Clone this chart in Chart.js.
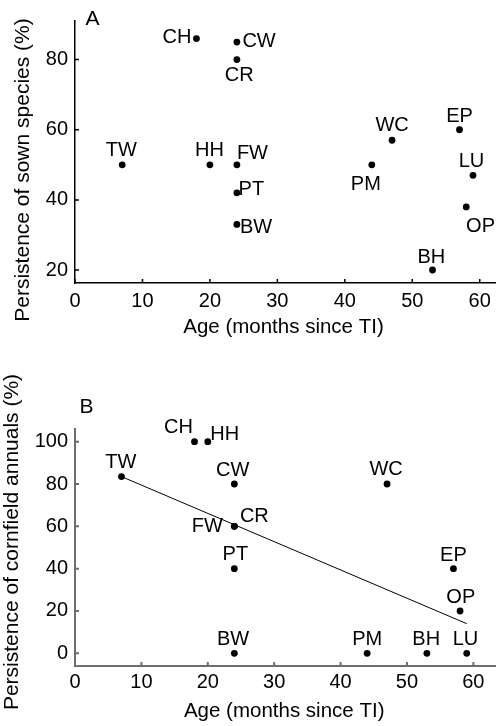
<!DOCTYPE html>
<html><head><meta charset="utf-8">
<script src="https://cdn.jsdelivr.net/npm/chart.js@4"></script>
<style>
html,body{margin:0;padding:0;background:#fff;overflow:hidden;width:496px;height:726px;}
.w{position:absolute;left:0;width:500px;}
</style></head><body>
<div class="w" style="top:0;height:345px"><canvas id="ca"></canvas></div>
<div class="w" style="top:345px;height:381px"><canvas id="cb"></canvas></div>
<script>
// ---- data ----
const xTicks = [0, 10, 20, 30, 40, 50, 60];
const yTicksA = [20, 40, 60, 80];
const yTicksB = [0, 20, 40, 60, 80, 100];

const namesA = ['CH','CW','CR','TW','HH','FW','PT','BW','WC','EP','PM','LU','OP','BH'];
const ageA   = [18, 24, 24, 7, 20, 24, 24, 24, 47, 57, 44, 59, 58, 53];
const sownA  = [86, 85, 80, 50, 50, 50, 42, 33, 57, 60, 50, 47, 38, 20];

const namesB = ['CH','HH','TW','CW','FW','CR','PT','BW','WC','EP','OP','PM','BH','LU'];
const ageB   = [18, 20, 7, 24, 24, 24, 24, 24, 47, 57, 58, 44, 53, 59];
const cornB  = [100, 100, 83.5, 80, 60, 60, 40, 0, 80, 40, 20, 0, 0, 0];

const fitAge  = [7, 59];
const fitCorn = [83.5, 14];

const titleX = 'Age (months since TI)';
const titleYA = 'Persistence of sown species (%)';
const titleYB = 'Persistence of cornfield annuals (%)';

// ---- label placement (pixel offsets from each point, cap-centre) ----
const offA = {
  CH:[-5,-2.7,'right'], CW:[5.5,-2.2,'left'], CR:[2.3,14.5], TW:[-1,-16.4], HH:[-0.5,-16.4],
  FW:[0,-12.7,'left'], PT:[1.7,-4.8,'left'], BW:[3,1.5,'left'], WC:[0,-16.7], EP:[0,-14.5],
  PM:[-6,17.5], LU:[-1.5,-15.5], OP:[14.3,18], BH:[-1.2,-14.5]
};
const offB = {
  CH:[-16,-16.3], HH:[17,-9.1], TW:[-0.7,-15.6], CW:[-1.7,-14.9], FW:[-27,-2], CR:[20,-11.2],
  PT:[1,-16], BW:[-1.3,-15.7], WC:[-1,-16.4], EP:[0,-15.1], OP:[0.7,-15.5], PM:[0,-15.7],
  BH:[-0.7,-15.7], LU:[-1.2,-15.7]
};

const FAM = '"Liberation Sans", Arial, Helvetica, sans-serif';

function makeDecor(cfg) {
  return {
    id: 'decor',
    afterDraw(chart) {
      const ctx = chart.ctx;
      const xs = chart.scales.x, ys = chart.scales.y;
      ctx.save();
      // inward ticks
      ctx.strokeStyle = cfg.axisColor;
      ctx.lineWidth = cfg.axisWidth;
      ctx.beginPath();
      cfg.xt.forEach(v => {
        const px = xs.getPixelForValue(v);
        ctx.moveTo(px, xs.top); ctx.lineTo(px, xs.top - 4);
      });
      cfg.yt.forEach(v => {
        const py = ys.getPixelForValue(v);
        ctx.moveTo(ys.right, py); ctx.lineTo(ys.right + 4, py);
      });
      ctx.stroke();
      // point labels
      ctx.fillStyle = '#000';
      const fs = 20;
      ctx.font = fs + 'px ' + FAM;
      ctx.textBaseline = 'alphabetic';
      const meta = chart.getDatasetMeta(cfg.ptIndex);
      cfg.names.forEach((n, i) => {
        const el = meta.data[i];
        const o = cfg.off[n] || [0, -15];
        ctx.textAlign = o[2] || 'center';
        ctx.fillText(n, el.x + o[0], el.y + o[1] + 0.36 * fs);
      });
      // x title
      ctx.font = '20.5px ' + FAM;
      ctx.textAlign = 'center';
      ctx.fillText(cfg.tx, cfg.txX, cfg.txY);
      // y title
      ctx.font = '21px ' + FAM;
      ctx.save();
      ctx.translate(cfg.tyX, cfg.tyY);
      ctx.rotate(-Math.PI / 2);
      ctx.textAlign = 'center';
      ctx.fillText(cfg.ty, 0, 0);
      ctx.restore();
      // panel letter
      ctx.font = '21px ' + FAM;
      ctx.textAlign = 'left';
      ctx.fillText(cfg.letter, cfg.lX, cfg.lY);
      ctx.restore();
    }
  };
}

function scatterData(xv, yv) { return xv.map((x, i) => ({x, y: yv[i]})); }

function makeChart(id, o) {
  const datasets = [{
    type: 'scatter',
    data: scatterData(o.xv, o.yv),
    pointRadius: 3.4, pointHoverRadius: 3.4,
    pointBackgroundColor: '#000', pointBorderWidth: 0, borderColor: '#000'
  }];
  if (o.fitX) {
    datasets.push({
      type: 'line',
      data: scatterData(o.fitX, o.fitY),
      borderColor: '#000', borderWidth: 1, pointRadius: 0, fill: false, tension: 0
    });
  }
  return new Chart(document.getElementById(id), {
    type: 'scatter',
    data: { datasets },
    options: {
      responsive: true, maintainAspectRatio: false, animation: false, devicePixelRatio: 1,
      layout: { padding: { top: o.padTop, left: 0, right: 0, bottom: 0 } },
      plugins: { legend: { display: false }, tooltip: { enabled: false } },
      events: [],
      scales: {
        x: {
          type: 'linear', min: 0, max: o.xMax,
          afterBuildTicks: s => { s.ticks = xTicks.map(v => ({ value: v })); },
          afterFit: s => { s.height = o.xh; },
          grid: { display: true, drawOnChartArea: false, drawTicks: false },
          border: { display: true, color: o.axisColor, width: o.axisWidth },
          ticks: { color: '#000', font: { family: FAM, size: 20 }, padding: o.xpad, maxRotation: 0 }
        },
        y: {
          type: 'linear', min: o.yMin, max: o.yMax,
          afterBuildTicks: s => { s.ticks = o.yt.map(v => ({ value: v })); },
          afterFit: s => { s.width = 75; },
          grid: { display: true, drawOnChartArea: false, drawTicks: false },
          border: { display: true, color: o.axisColor, width: o.axisWidth },
          ticks: { color: '#000', font: { family: FAM, size: 20 }, padding: 7 }
        }
      }
    },
    plugins: [makeDecor({
      axisColor: o.axisColor, axisWidth: o.axisWidth, xt: xTicks, yt: o.yt,
      names: o.names, off: o.off, ptIndex: 0,
      tx: titleX, txX: o.txX, txY: o.txY,
      ty: o.ty, tyX: o.tyX, tyY: o.tyY,
      letter: o.letter, lX: o.lX, lY: o.lY
    })]
  });
}

makeChart('ca', {
  xv: ageA, yv: sownA, names: namesA, off: offA, yt: yTicksA,
  xMax: 62.5, yMin: 16.3, yMax: 91, padTop: 21, xh: 62, xpad: 6,
  axisColor: '#000', axisWidth: 1.5,
  txX: 283.5, txY: 333, ty: titleYA, tyX: 29.3, tyY: 170,
  letter: 'A', lX: 85.5, lY: 25
});

makeChart('cb', {
  xv: ageB, yv: cornB, names: namesB, off: offB, yt: yTicksB,
  fitX: fitAge, fitY: fitCorn,
  xMax: 63.5, yMin: -6, yMax: 106, padTop: 84, xh: 60, xpad: 4,
  axisColor: '#6e6e6e', axisWidth: 2,
  txX: 284.2, txY: 716.7 - 345, ty: titleYB, tyX: 18.3, tyY: 542 - 345,
  letter: 'B', lX: 79.5, lY: 412.7 - 345
});
</script>
</body></html>
